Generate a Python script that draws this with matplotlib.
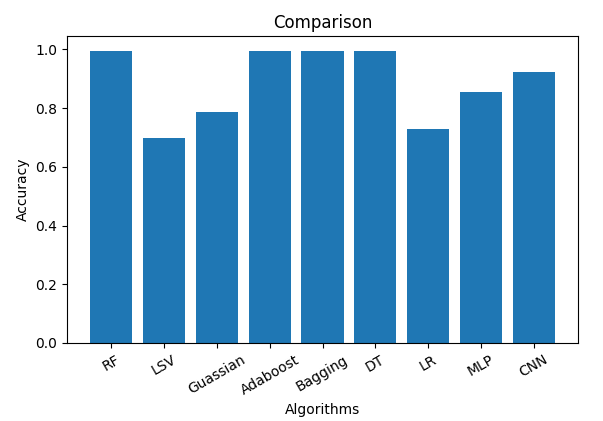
import matplotlib
matplotlib.use('Agg')
import matplotlib.pyplot as plt

# accuracy of each classifier
algorithms = ['RF', 'LSV', 'Guassian', 'Adaboost', 'Bagging', 'DT', 'LR', 'MLP', 'CNN']
accuracy = [0.996, 0.70, 0.788, 0.996, 0.996, 0.996, 0.73, 0.856, 0.923]

fig = plt.figure(figsize=(6.03, 4.21), dpi=100)
ax = fig.add_axes([67 / 603, 1 - 343 / 421, (578 - 67) / 603, (343 - 36) / 421])
ax.bar(algorithms, accuracy)
ax.set_title('Comparison')
ax.set_xlabel('Algorithms')
ax.set_ylabel('Accuracy')
plt.xticks(rotation=30)

fig.savefig('out.png', dpi=100)
